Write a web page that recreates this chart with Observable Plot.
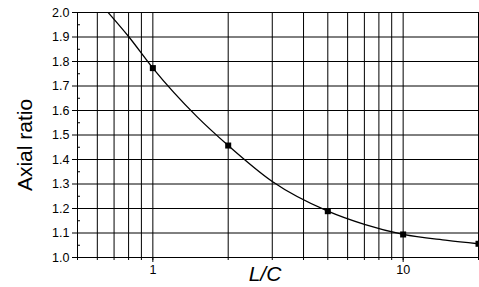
<!DOCTYPE html>
<html>
<head>
<meta charset="utf-8">
<script src="https://cdn.jsdelivr.net/npm/d3@7"></script>
<script src="https://cdn.jsdelivr.net/npm/@observablehq/plot@0.6"></script>
<style>
  html, body { margin: 0; padding: 0; background: #fff; }
  svg { font-family: "Liberation Sans", Arial, sans-serif; }
</style>
</head>
<body>
<div id="chart"></div>
<script>
// Measured points (markers)
const ratioLC = [1, 2, 5, 10, 20];
const axialRatio = [1.773, 1.457, 1.189, 1.094, 1.056];
// Points
const curveLC = [0.663, 0.8, 1, 1.5, 2, 3, 5, 7, 10, 15, 20];
const curveAR = [2.0, 1.902, 1.773, 1.575, 1.457, 1.31, 1.189, 1.135, 1.094, 1.07, 1.056];
// Axis ticks / grid
const xGrid = [0.5, 0.6, 0.7, 0.8, 0.9, 1, 2, 3, 4, 5, 6, 7, 8, 9, 10, 20];
const xMajor = [1, 10];
const yMajor = [1.0, 1.1, 1.2, 1.3, 1.4, 1.5, 1.6, 1.7, 1.8, 1.9, 2.0];
const yMinor = [1.05, 1.15, 1.25, 1.35, 1.45, 1.55, 1.65, 1.75, 1.85, 1.95];
const xTitle = "L/C";
const yTitle = "Axial ratio";

const points = ratioLC.map((x, i) => ({x, y: axialRatio[i]}));
const curve = curveLC.map((x, i) => ({x, y: curveAR[i]}));

const chart = Plot.plot({
  width: 479,
  height: 287,
  marginLeft: 77,
  marginRight: 1,
  marginTop: 12,
  marginBottom: 30,
  style: {fontFamily: "'Liberation Sans', Arial, sans-serif", background: "#fff"},
  x: {type: "log", domain: [0.5, 20]},
  y: {domain: [1, 2]},
  marks: [
    Plot.ruleX(xGrid, {stroke: "#000", strokeWidth: 1}),
    Plot.ruleY(yMajor, {stroke: "#000", strokeWidth: 1}),
    Plot.frame({stroke: "#000"}),
    Plot.axisX(xGrid, {tickSize: 3, text: null, label: null, stroke: "#000"}),
    Plot.axisX(xMajor, {tickSize: 5, tickPadding: 3, tickFormat: d => String(d), label: null, fontSize: 12.5, fill: "#000", stroke: "#000"}),
    Plot.axisY(yMajor, {tickSize: 5, tickPadding: 3, tickFormat: d3.format(".1f"), label: null, fontSize: 12.5, fill: "#000", stroke: "#000"}),
    Plot.axisY(yMinor, {tickSize: -3, text: null, label: null, stroke: "#000"}),
    Plot.line(curve, {x: "x", y: "y", curve: "monotone-x", stroke: "#000", strokeWidth: 1.3, clip: true}),
    Plot.dot(points, {x: "x", y: "y", symbol: "square", r: 3.4, fill: "#000", stroke: "none"}),
    Plot.text([yTitle], {frameAnchor: "left", text: d => d, textAnchor: "middle", lineAnchor: "middle", dx: -52, dy: 10, rotate: -90, fontSize: 21, fill: "#000"}),
    Plot.text([xTitle], {frameAnchor: "bottom", text: d => d, textAnchor: "middle", dx: -13, dy: 23, fontSize: 21, fontStyle: "italic", fill: "#000"})
  ]
});
document.getElementById("chart").appendChild(chart);
</script>
</body>
</html>
